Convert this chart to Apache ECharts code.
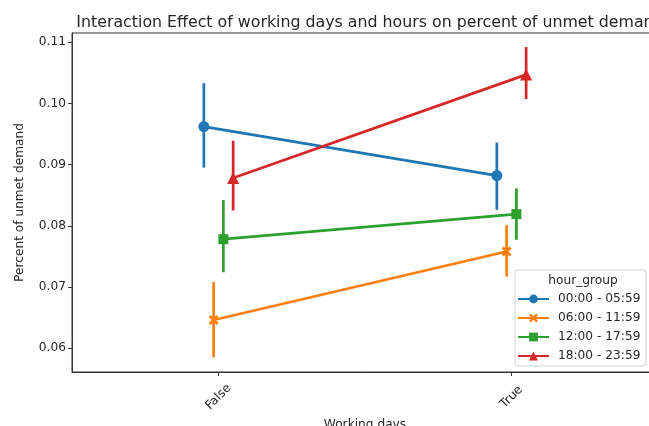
<!DOCTYPE html>
<html>
<head>
<meta charset="utf-8">
<script src="https://cdn.jsdelivr.net/npm/echarts@6/dist/echarts.min.js"></script>
<style>
  html, body { margin: 0; padding: 0; background: #fff; }
  #chart { width: 649px; height: 426px; }
</style>
</head>
<body>
<div id="chart"></div>
<script>
// Working-day categories on the x axis
const categories = ['False', 'True'];
// Hour groups (hue)
const hourGroups = ['00:00 - 05:59', '06:00 - 11:59', '12:00 - 17:59', '18:00 - 23:59'];

// Mean percent of unmet demand per group, for [False, True]
const mean0005 = [0.0962, 0.0882];
const mean0611 = [0.0646, 0.0758];
const mean1217 = [0.0778, 0.0819];
const mean1823 = [0.0878, 0.1047];

// Confidence interval bounds per group, for [False, True]
const low0005 = [0.0895, 0.0826];
const high0005 = [0.1033, 0.0936];
const low0611 = [0.0585, 0.0717];
const high0611 = [0.0708, 0.0801];
const low1217 = [0.0724, 0.0777];
const high1217 = [0.0842, 0.0861];
const low1823 = [0.0825, 0.1007];
const high1823 = [0.0939, 0.1092];

// Y tick labels
const yTicks = [0.06, 0.07, 0.08, 0.09, 0.10, 0.11];

const means = [mean0005, mean0611, mean1217, mean1823];
const lows = [low0005, low0611, low1217, low1823];
const highs = [high0005, high0611, high1217, high1823];

const colors = ['#1f77b4', '#ff7f0e', '#2ca02c', '#d62728'];
const xMarker = 'path://M2,0L5,3L8,0L10,2L7,5L10,8L8,10L5,7L2,10L0,8L3,5L0,2Z';
const symbols = ['circle', xMarker, 'rect', 'triangle'];
const symbolSizes = [11, 10, 10, 12];

const FONT = 'DejaVu Sans';
const TEXT = '#262626';

// dodge the groups around each category position
const dodge = 0.1;
function offset(i) { return -dodge / 2 + i * dodge / (hourGroups.length - 1); }

const series = [];
hourGroups.forEach((name, i) => {
  const c = colors[i];
  series.push({
    name: name,
    type: 'line',
    data: categories.map((_, k) => [k + offset(i), means[i][k]]),
    symbol: symbols[i],
    symbolSize: symbolSizes[i],
    showSymbol: true,
    lineStyle: { color: c, width: 2.7 },
    itemStyle: { color: c },
    z: 3 + i * 2,
    silent: true
  });
  series.push({
    name: name,
    type: 'custom',
    data: categories.map((_, k) => [k + offset(i), lows[i][k], highs[i][k]]),
    encode: { x: 0, y: [1, 2] },
    renderItem: function (params, api) {
      const p1 = api.coord([api.value(0), api.value(1)]);
      const p2 = api.coord([api.value(0), api.value(2)]);
      return {
        type: 'line',
        shape: { x1: p1[0], y1: p1[1], x2: p2[0], y2: p2[1] },
        style: { stroke: c, lineWidth: 2.7 }
      };
    },
    z: 2 + i * 2,
    silent: true
  });
});

const chart = echarts.init(document.getElementById('chart'));
chart.setOption({
  animation: false,
  backgroundColor: '#fff',
  textStyle: { fontFamily: FONT },
  title: {
    text: 'Interaction Effect of working days and hours on percent of unmet demand',
    left: 365,
    textAlign: 'center',
    top: 10,
    textStyle: { fontFamily: FONT, fontSize: 15.8, fontWeight: 'normal', color: TEXT }
  },
  grid: {
    left: 72, top: 33, width: 586, height: 339,
    outerBoundsMode: 'none',
    containLabel: false,
    show: true, borderColor: '#333', borderWidth: 1, backgroundColor: '#fff'
  },
  xAxis: {
    type: 'value',
    min: -0.5, max: 1.5,
    name: 'Working days',
    nameLocation: 'middle',
    nameGap: 40,
    nameTextStyle: { fontFamily: FONT, fontSize: 12.2, color: TEXT },
    axisLine: { show: true, onZero: false, lineStyle: { color: '#333' } },
    splitLine: { show: false },
    axisTick: { show: true, customValues: [0, 1], length: 4, lineStyle: { color: '#333' } },
    axisLabel: {
      customValues: [0, 1],
      formatter: v => categories[Math.round(v)],
      rotate: 45,
      align: 'center',
      verticalAlign: 'middle',
      margin: 25,
      fontFamily: FONT, fontSize: 12.2, color: TEXT
    }
  },
  yAxis: {
    type: 'value',
    min: 0.0561, max: 0.1115,
    name: 'Percent of unmet demand',
    nameLocation: 'middle',
    nameGap: 46,
    nameTextStyle: { fontFamily: FONT, fontSize: 12.2, color: TEXT },
    axisLine: { show: true, onZero: false, lineStyle: { color: '#333' } },
    splitLine: { show: false },
    axisTick: { show: true, customValues: yTicks, length: 4, lineStyle: { color: '#333' } },
    axisLabel: {
      customValues: yTicks,
      formatter: v => v.toFixed(2),
      margin: 6,
      fontFamily: FONT, fontSize: 12.2, color: TEXT
    }
  },
  legend: {
    data: hourGroups,
    orient: 'vertical',
    left: 517,
    top: 293,
    itemWidth: 31,
    itemHeight: 11,
    itemGap: 7,
    padding: 0,
    z: 20,
    textStyle: { fontFamily: FONT, fontSize: 12.2, color: TEXT, padding: [0, 0, 0, 4] }
  },
  graphic: [
    {
      type: 'rect',
      z: 15,
      shape: { x: 515, y: 270, width: 131, height: 96, r: 3 },
      style: { fill: 'rgba(255,255,255,0.85)', stroke: '#d0d0d0', lineWidth: 1 }
    },
    {
      type: 'text',
      z: 16,
      x: 583, y: 281,
      style: {
        text: 'hour_group', fill: TEXT, fontFamily: FONT, fontSize: 12.2,
        align: 'center', verticalAlign: 'middle'
      }
    }
  ],
  series: series
});
</script>
</body>
</html>
